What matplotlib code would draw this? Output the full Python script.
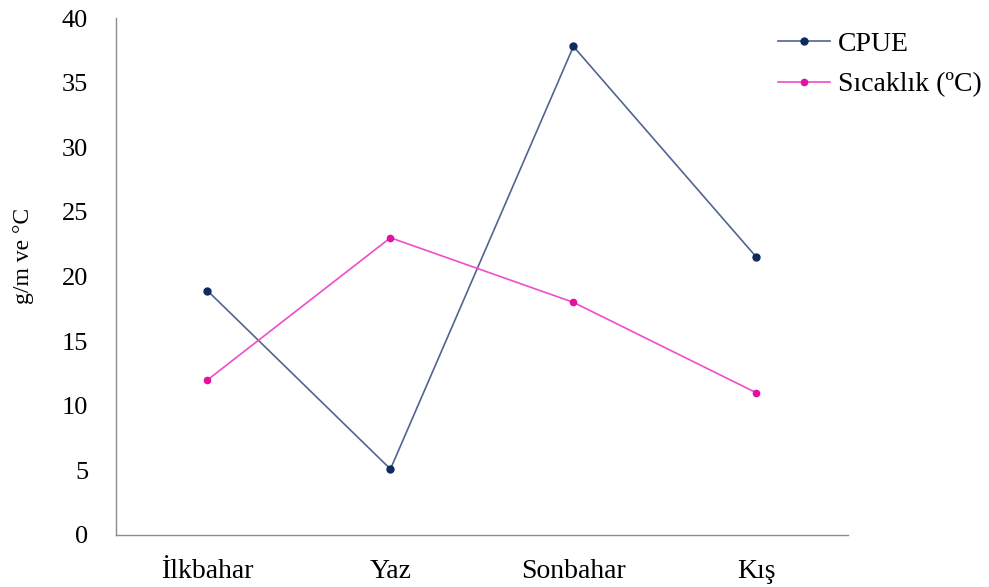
import matplotlib

matplotlib.use("Agg")
import matplotlib.pyplot as plt

plt.rcParams["font.family"] = ["Liberation Serif", "DejaVu Serif"]

seasons = ["İlkbahar", "Yaz", "Sonbahar", "Kış"]
cpue = [18.9, 5.1, 37.8, 21.5]
sicaklik = [12.0, 23.0, 18.0, 11.0]
yticks = [0, 5, 10, 15, 20, 25, 30, 35, 40]

fig = plt.figure(figsize=(9.89, 5.87), dpi=100)
ax = fig.add_axes([0.1173, 0.0886, 0.7400, 0.8807])

x = range(len(seasons))
ax.plot(x, cpue, color="#52658f", lw=1.2, marker="o", ms=5,
        mfc="#0f2a5c", mec="#0f2a5c", label="CPUE")
ax.plot(x, sicaklik, color="#f04ccb", lw=1.2, marker="o", ms=4.5,
        mfc="#e0129e", mec="#e0129e", label="Sıcaklık (ºC)")

ax.set_xlim(-0.5, len(seasons) - 0.5)
ax.set_ylim(0, 40)
ax.set_xticks(list(x))
ax.set_xticklabels(seasons, fontsize=20)
ax.set_yticks(yticks)
ax.set_yticklabels([str(t) for t in yticks], fontsize=19)
ax.tick_params(length=0)
ax.tick_params(axis="y", pad=20)
ax.tick_params(axis="x", pad=17)
ax.set_ylabel("g/m ve °C", fontsize=17)
ax.yaxis.set_label_coords(-0.112, 0.54)

for s in ("top", "right"):
    ax.spines[s].set_visible(False)
for s in ("left", "bottom"):
    ax.spines[s].set_color("#8c8c8c")
    ax.spines[s].set_linewidth(1.0)

fig.legend(loc="upper left", bbox_to_anchor=(0.7866, 0.947), frameon=False,
           fontsize=20, handlelength=1.87, handletextpad=0.3, labelspacing=0.56,
           borderpad=0, borderaxespad=0)

fig.savefig("out.png", dpi=100, facecolor="white")
